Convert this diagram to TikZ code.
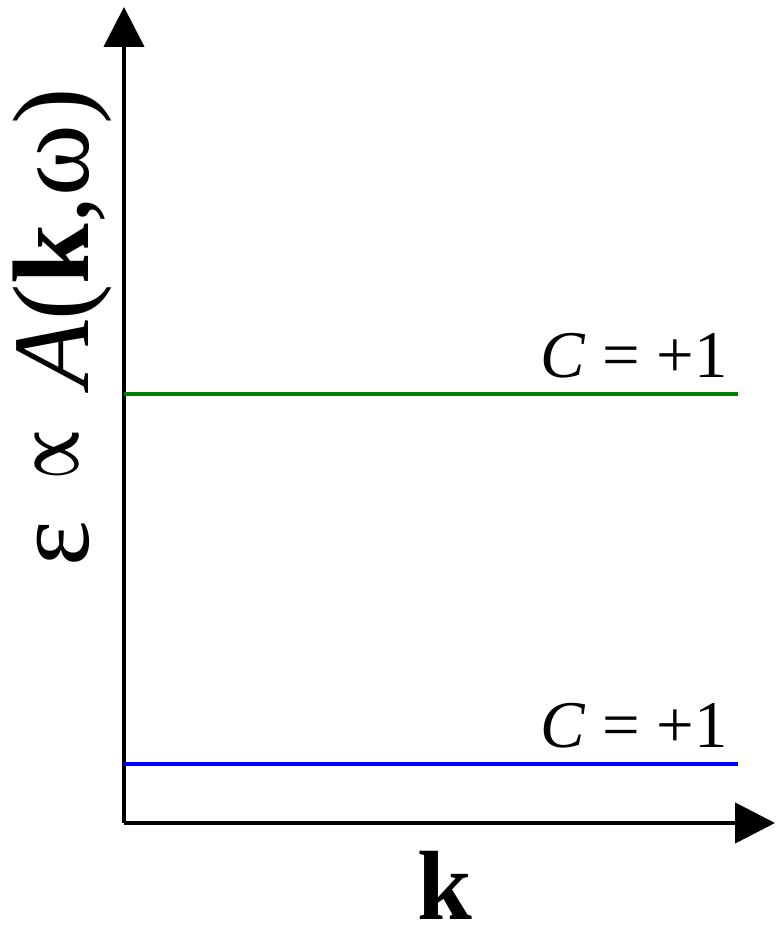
\documentclass[tikz,border=0pt]{standalone}
\usepackage{fontspec}
\setmainfont{Liberation Serif}
\usetikzlibrary{arrows.meta}
\definecolor{bandgreen}{RGB}{0,128,0}
\definecolor{bandblue}{RGB}{0,0,255}

\begin{document}
\begin{tikzpicture}[x=0.02cm, y=0.02cm, >={Triangle[length=0.8cm, width=0.8cm]}]
\tikzset{
  axis/.style={black, line width=2.6pt},
  band/.style={line width=2.8pt},
  chern/.style={font=\fontsize{38}{40}\selectfont, anchor=base east, inner sep=0pt}
}
\useasboundingbox (0,0) rectangle (775,928);

% Axes
\coordinate (O) at (124,105);
\coordinate (ytip) at (124,921);
\coordinate (xtip) at (775,105);
\draw[axis, ->] (O) -- (ytip);
\draw[axis, ->] (O) -- (xtip);

% Axis labels
\node[font=\fontsize{62}{66}\selectfont, rotate=90, anchor=base west, inner sep=0pt] (ylab) at (88,361)
  {\makebox[1.74cm][l]{ε}\makebox[1.84cm][l]{\raisebox{0.2cm}{\resizebox{1cm}{0.86cm}{\boldmath$\propto$}}}\textit{A}(\textbf{k},ω)};
\node[font=\fontsize{56}{60}\selectfont\bfseries, anchor=base, inner sep=0pt] (xlab) at (445,9) {k};

% Bands
\coordinate (g0) at (124,534);
\coordinate (g1) at (738,534);
\coordinate (b0) at (124,164);
\coordinate (b1) at (738,164);
\draw[band, bandgreen] (g0) -- (g1);
\draw[band, bandblue] (b0) -- (b1);

% Chern numbers
\node[chern] (cgreen) at (728,550) {\textit{C} = +1};
\node[chern] (cblue) at (728,180) {\textit{C} = +1};

\end{tikzpicture}
\end{document}
